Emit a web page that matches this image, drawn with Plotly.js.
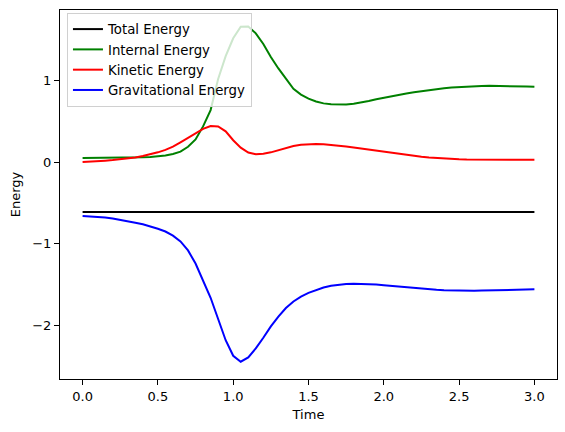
<!DOCTYPE html>
<html>
<head>
<meta charset="utf-8">
<script src="https://cdn.plot.ly/plotly-3.0.1.min.js"></script>
<style>
  html, body { margin: 0; padding: 0; background: #fff; }
  #chart { width: 565px; height: 432px; }
</style>
</head>
<body>
<div id="chart"></div>
<script>
// Simulation time samples
const time = [
  0.00, 0.05, 0.10, 0.15, 0.20, 0.25, 0.30, 0.35, 0.40, 0.45,
  0.50, 0.55, 0.60, 0.65, 0.70, 0.75, 0.80, 0.85, 0.90, 0.95,
  1.00, 1.05, 1.10, 1.15, 1.20, 1.25, 1.30, 1.35, 1.40, 1.45,
  1.50, 1.55, 1.60, 1.65, 1.70, 1.75, 1.80, 1.85, 1.90, 1.95,
  2.00, 2.05, 2.10, 2.15, 2.20, 2.25, 2.30, 2.35, 2.40, 2.45,
  2.50, 2.55, 2.60, 2.65, 2.70, 2.75, 2.80, 2.85, 2.90, 2.95,
  3.00
];

const totalEnergy = [
  -0.61, -0.61, -0.61, -0.61, -0.61, -0.61, -0.61, -0.61, -0.61, -0.61,
  -0.61, -0.61, -0.61, -0.61, -0.61, -0.61, -0.61, -0.61, -0.61, -0.61,
  -0.61, -0.61, -0.61, -0.61, -0.61, -0.61, -0.61, -0.61, -0.61, -0.61,
  -0.61, -0.61, -0.61, -0.61, -0.61, -0.61, -0.61, -0.61, -0.61, -0.61,
  -0.61, -0.61, -0.61, -0.61, -0.61, -0.61, -0.61, -0.61, -0.61, -0.61,
  -0.61, -0.61, -0.61, -0.61, -0.61, -0.61, -0.61, -0.61, -0.61, -0.61,
  -0.61
];

const internalEnergy = [
  0.052, 0.052, 0.053, 0.053, 0.054, 0.055, 0.056, 0.058, 0.061, 0.065,
  0.072, 0.083, 0.102, 0.130, 0.190, 0.280, 0.440, 0.640, 1.020, 1.300,
  1.520, 1.660, 1.665, 1.580, 1.450, 1.290, 1.150, 1.020, 0.900, 0.830,
  0.780, 0.745, 0.722, 0.710, 0.705, 0.708, 0.718, 0.733, 0.752, 0.773,
  0.793, 0.811, 0.828, 0.844, 0.858, 0.872, 0.885, 0.897, 0.907, 0.915,
  0.922, 0.928, 0.932, 0.935, 0.937, 0.937, 0.936, 0.934, 0.931, 0.928,
  0.925
];

const kineticEnergy = [
  0.005, 0.008, 0.014, 0.020, 0.027, 0.035, 0.045, 0.060, 0.077, 0.098,
  0.122, 0.152, 0.192, 0.245, 0.300, 0.352, 0.410, 0.445, 0.440, 0.380,
  0.270, 0.180, 0.120, 0.100, 0.105, 0.122, 0.150, 0.176, 0.200, 0.215,
  0.222, 0.223, 0.220, 0.213, 0.204, 0.193, 0.180, 0.167, 0.153, 0.139,
  0.125, 0.112, 0.100, 0.088, 0.077, 0.067, 0.059, 0.052, 0.046, 0.041,
  0.037, 0.034, 0.032, 0.031, 0.030, 0.030, 0.030, 0.030, 0.030, 0.030,
  0.030
];

const gravitationalEnergy = [
  -0.658, -0.662, -0.668, -0.677, -0.688, -0.703, -0.720, -0.740, -0.760, -0.785,
  -0.815, -0.848, -0.898, -0.970, -1.080, -1.240, -1.440, -1.660, -1.920, -2.180,
  -2.370, -2.443, -2.390, -2.280, -2.150, -2.010, -1.890, -1.785, -1.705, -1.645,
  -1.600, -1.563, -1.534, -1.513, -1.498, -1.490, -1.487, -1.488, -1.492, -1.498,
  -1.506, -1.515, -1.525, -1.534, -1.543, -1.551, -1.558, -1.563, -1.567, -1.570,
  -1.572, -1.573, -1.573, -1.572, -1.571, -1.569, -1.566, -1.563, -1.560, -1.558,
  -1.556
];

const seriesNames = ['Total Energy', 'Internal Energy', 'Kinetic Energy', 'Gravitational Energy'];
const seriesColors = ['#000000', '#008000', '#ff0000', '#0000ff'];
const seriesValues = [totalEnergy, internalEnergy, kineticEnergy, gravitationalEnergy];

const traces = seriesValues.map((vals, i) => ({
  x: time,
  y: vals,
  type: 'scatter',
  mode: 'lines',
  name: seriesNames[i],
  line: { color: seriesColors[i], width: 2 }
}));

const axisCommon = {
  showline: true,
  linecolor: '#000',
  linewidth: 1,
  mirror: true,
  showgrid: false,
  zeroline: false,
  ticks: 'outside',
  ticklen: 5,
  tickwidth: 1,
  tickcolor: '#000',
  tickfont: { family: 'DejaVu Sans', size: 13, color: '#000' }
};

const layout = {
  width: 565,
  height: 432,
  margin: { l: 60, r: 8, t: 10, b: 53 },
  paper_bgcolor: '#fff',
  plot_bgcolor: '#fff',
  font: { family: 'DejaVu Sans', size: 13, color: '#000' },
  showlegend: true,
  legend: {
    x: 0.014,
    y: 0.992,
    xanchor: 'left',
    yanchor: 'top',
    bgcolor: 'rgba(255,255,255,0.8)',
    bordercolor: '#d0d0d0',
    borderwidth: 1,
    itemwidth: 30,
    font: { family: 'DejaVu Sans', size: 13.3, color: '#000' }
  },
  xaxis: Object.assign({}, axisCommon, {
    range: [-0.15, 3.15],
    tickvals: [0, 0.5, 1, 1.5, 2, 2.5, 3],
    tickformat: '.1f',
    title: { text: 'Time', font: { family: 'DejaVu Sans', size: 13, color: '#000' }, standoff: 7 }
  }),
  yaxis: Object.assign({}, axisCommon, {
    range: [-2.655, 1.866],
    tickvals: [-2, -1, 0, 1],
    title: { text: 'Energy', font: { family: 'DejaVu Sans', size: 13, color: '#000' }, standoff: 8 }
  })
};

Plotly.newPlot('chart', traces, layout, { displayModeBar: false, staticPlot: true });
</script>
</body>
</html>
